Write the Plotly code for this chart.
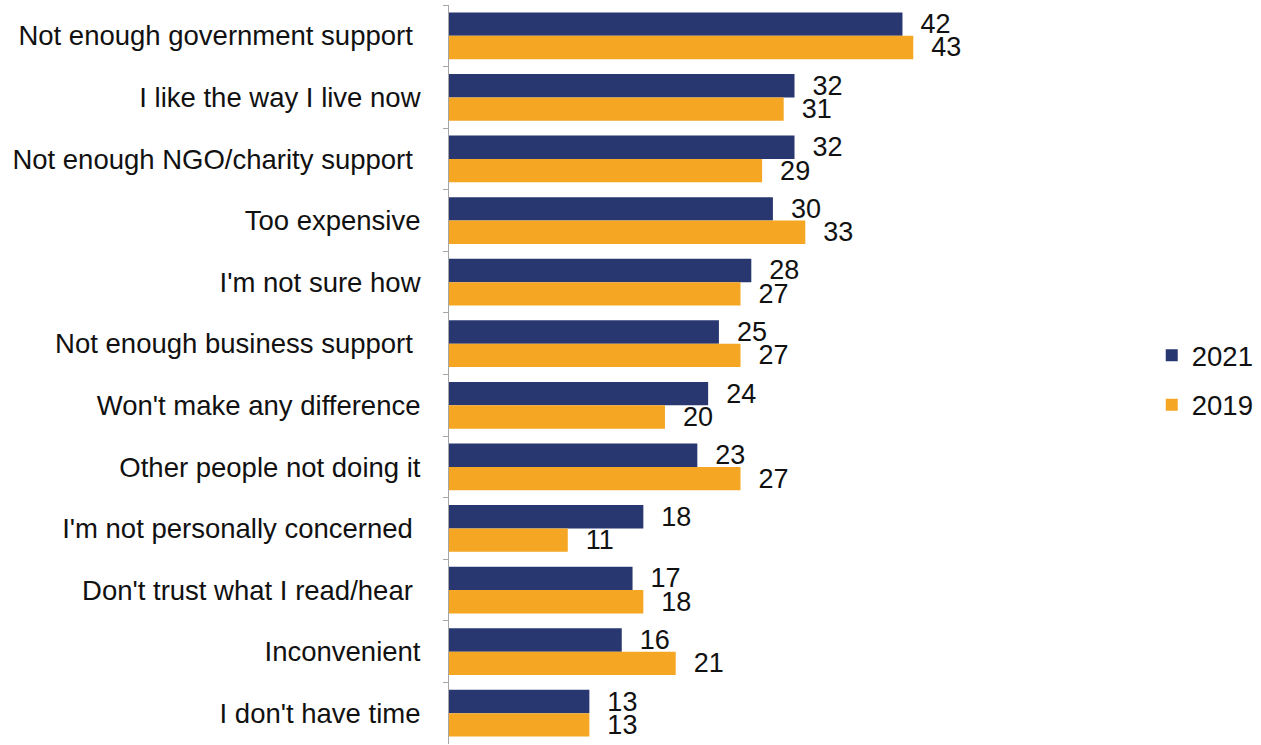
import plotly.graph_objects as go

# Reasons, listed top to bottom
categories = [
    "Not enough government support\u00a0",
    "I like the way I live now",
    "Not enough NGO/charity support\u00a0",
    "Too expensive",
    "I'm not sure how",
    "Not enough business support\u00a0",
    "Won't make any difference",
    "Other people not doing it",
    "I'm not personally concerned\u00a0",
    "Don't trust what I read/hear\u00a0",
    "Inconvenient",
    "I don't have time",
]
values_2021 = [42, 32, 32, 30, 28, 25, 24, 23, 18, 17, 16, 13]
values_2019 = [43, 31, 29, 33, 27, 27, 20, 27, 11, 18, 21, 13]

NAVY = "#293770"
ORANGE = "#F5A623"
FONT = "Liberation Sans, Arial, sans-serif"

fig = go.Figure()
series = [
    ("2021", values_2021, NAVY, "legend"),
    ("2019", values_2019, ORANGE, "legend2"),
]
for name, vals, color, leg in series:
    fig.add_trace(go.Bar(
        name=name,
        legend=leg,
        showlegend=True,
        y=categories,
        x=vals,
        orientation="h",
        marker=dict(color=color, line=dict(width=0)),
        texttemplate="\u00a0\u00a0%{x}",
        textposition="outside",
        textfont=dict(size=27, color="#111111", family=FONT),
        cliponaxis=False,
    ))

legend_style = dict(
    x=1.017, xanchor="left", yanchor="middle",
    font=dict(size=27.5, color="#111111", family=FONT),
    itemwidth=30,
    bgcolor="rgba(0,0,0,0)",
)

fig.update_layout(
    showlegend=True,
    barmode="group",
    bargap=0.24,
    bargroupgap=0,
    width=1261,
    height=745,
    margin=dict(l=449, r=121, t=5, b=1),
    plot_bgcolor="white",
    paper_bgcolor="white",
    font=dict(family=FONT, color="#111111"),
    legend=dict(y=0.526, **legend_style),
    legend2=dict(y=0.459, **legend_style),
    uniformtext=dict(minsize=27, mode="show"),
)
fig.update_xaxes(
    range=[0, 64],
    showgrid=False,
    zeroline=False,
    showticklabels=False,
    showline=False,
)
fig.update_yaxes(
    autorange="reversed",
    showgrid=False,
    showline=True,
    linecolor="#A6A6A6",
    linewidth=1,
    ticks="outside",
    tickson="boundaries",
    ticklen=5,
    tickcolor="#A6A6A6",
    ticklabelstandoff=22,
    tickfont=dict(size=27.5, color="#111111", family=FONT),
)

fig.write_html("out.html")
